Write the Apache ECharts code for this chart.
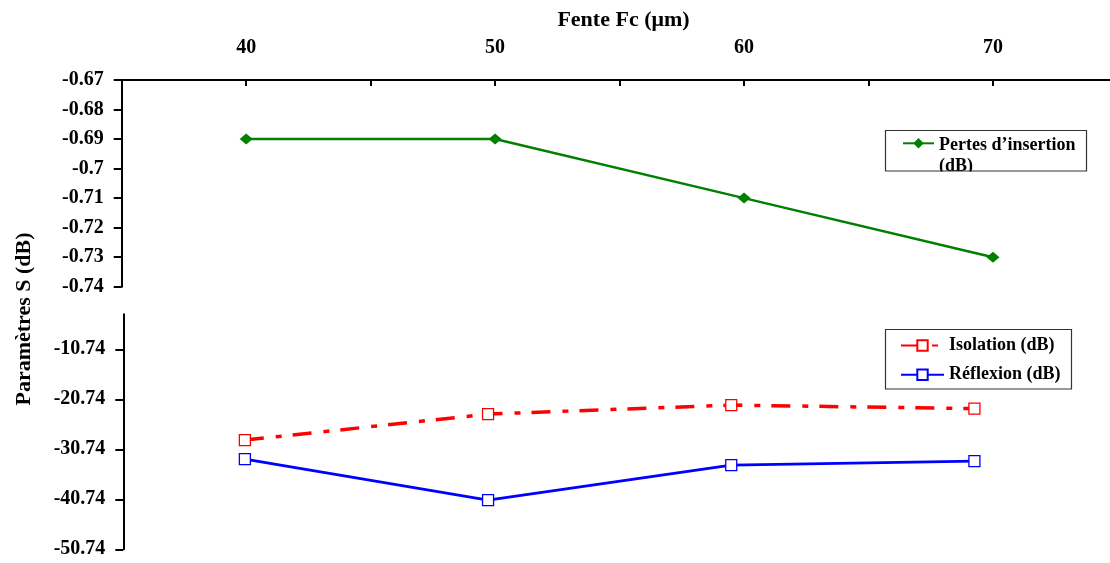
<!DOCTYPE html>
<html>
<head>
<meta charset="utf-8">
<script src="https://cdn.jsdelivr.net/npm/echarts@6/dist/echarts.min.js"></script>
<style>
html,body{margin:0;padding:0;background:#fff;}
#chart{width:1110px;height:563px;}
</style>
</head>
<body>
<div id="chart"></div>
<script>
// ---- data ----
const categories = [40, 50, 60, 70];
const pertes = [-0.69, -0.69, -0.71, -0.73];
const isolation = [-28.9, -23.7, -21.9, -22.6];
const reflexion = [-32.7, -40.9, -33.9, -33.1];
const xTickLabels = [40, 50, 60, 70];
const xTicks = [35, 40, 45, 50, 55, 60, 65, 70];
const topYTicks = [-0.74, -0.73, -0.72, -0.71, -0.7, -0.69, -0.68, -0.67];
const bottomYTicks = [-50.74, -40.74, -30.74, -20.74, -10.74];
const seriesNames = ['Pertes d\u2019insertion (dB)', 'Isolation (dB)', 'R\u00e9flexion (dB)'];
const xTitle = 'Fente Fc (\u03bcm)';
const yTitle = 'Param\u00e8tres S (dB)';

const FONT = "'Liberation Serif', 'Times New Roman', serif";
const pair = (vals) => categories.map((c, i) => [c, vals[i]]);
const labelStyle = { fontFamily: FONT, fontWeight: 'bold', fontSize: 20, color: '#000' };
const axisLineStyle = { color: '#000', width: 2 };
const legendText = { fontFamily: FONT, fontWeight: 'bold', fontSize: 18, color: '#000' };

const chart = echarts.init(document.getElementById('chart'), null, { renderer: 'canvas' });

const option = {
  animation: false,
  backgroundColor: '#fff',
  grid: [
    { left: 121.7, top: 80, right: 0, height: 206.7, containLabel: false },
    { left: 123.3, top: 314.3, right: 14, height: 235, containLabel: false }
  ],
  xAxis: [
    {
      type: 'value', gridIndex: 0, position: 'top', min: 35, max: 74.7, interval: 5,
      axisLine: { show: true, lineStyle: axisLineStyle },
      axisTick: { show: true, customValues: xTicks, inside: true, length: 6, lineStyle: axisLineStyle },
      axisLabel: { customValues: xTickLabels, margin: 22, ...labelStyle },
      splitLine: { show: false }
    },
    {
      type: 'value', gridIndex: 1, min: 35, max: 75, show: false
    }
  ],
  yAxis: [
    {
      type: 'value', gridIndex: 0, min: -0.74, max: -0.67, interval: 0.01,
      axisLine: { show: true, lineStyle: axisLineStyle },
      axisTick: { show: true, customValues: topYTicks, length: 8, lineStyle: axisLineStyle },
      axisLabel: { customValues: topYTicks, margin: 18, ...labelStyle },
      splitLine: { show: false }
    },
    {
      type: 'value', gridIndex: 1, min: -50.74, max: -3.74, interval: 10,
      axisLine: { show: true, lineStyle: axisLineStyle },
      axisTick: { show: true, customValues: bottomYTicks, length: 8, lineStyle: axisLineStyle },
      axisLabel: { customValues: bottomYTicks, margin: 18, ...labelStyle },
      splitLine: { show: false }
    }
  ],
  legend: [
    {
      data: [seriesNames[0]], orient: 'vertical', left: 902, top: 113.3, padding: 0,
      itemWidth: 31, itemHeight: 13, selectedMode: false,
      formatter: (n) => {
        const parts = n.split(' (dB)');
        return '{e| }\n{t|' + parts[0] + '}\n{t|(dB)}';
      },
      textStyle: {
        ...legendText,
        rich: {
          e: { ...legendText, lineHeight: 26 },
          t: { ...legendText, lineHeight: 21 }
        }
      }
    },
    {
      data: [seriesNames[1], seriesNames[2]], orient: 'vertical', left: 900, top: 335.5, padding: 0,
      itemWidth: 43, itemHeight: 13, itemGap: 9.3, selectedMode: false,
      textStyle: { ...legendText, lineHeight: 20 }
    }
  ],
  graphic: [
    { type: 'rect', z: 100, silent: true, shape: { x: 880, y: 171.6, width: 215, height: 14 }, style: { fill: '#fff' } },
    { type: 'rect', z: 101, silent: true, shape: { x: 885.5, y: 130.5, width: 201, height: 40.5 }, style: { fill: 'none', stroke: '#333', lineWidth: 1.2 } },
    { type: 'rect', z: 101, silent: true, shape: { x: 885.5, y: 329.5, width: 186, height: 59.5 }, style: { fill: 'none', stroke: '#333', lineWidth: 1.2 } },
    { type: 'text', z: 101, silent: true, x: 623.5, y: 20,
      style: { text: xTitle, fontFamily: FONT, fontWeight: 'bold', fontSize: 22, fill: '#000', align: 'center', verticalAlign: 'middle' } },
    { type: 'text', z: 101, silent: true, x: 24, y: 319, rotation: Math.PI / 2,
      style: { text: yTitle, fontFamily: FONT, fontWeight: 'bold', fontSize: 22, fill: '#000', align: 'center', verticalAlign: 'middle' } }
  ],
  series: [
    {
      name: seriesNames[0], type: 'line', xAxisIndex: 0, yAxisIndex: 0, data: pair(pertes),
      symbol: 'diamond', symbolSize: [13, 11], showAllSymbol: true,
      itemStyle: { color: '#008000' },
      lineStyle: { color: '#008000', width: 2.5 }
    },
    {
      name: seriesNames[1], type: 'line', xAxisIndex: 1, yAxisIndex: 1, data: pair(isolation),
      symbol: 'rect', symbolSize: 11,
      itemStyle: { color: '#fff', borderColor: '#ff0000', borderWidth: 1.3 },
      lineStyle: { color: '#ff0000', width: 3.5, type: [19, 12, 6, 11], cap: 'butt' }
    },
    {
      name: seriesNames[2], type: 'line', xAxisIndex: 1, yAxisIndex: 1, data: pair(reflexion),
      symbol: 'rect', symbolSize: 11,
      itemStyle: { color: '#fff', borderColor: '#0000ff', borderWidth: 1.3 },
      lineStyle: { color: '#0000ff', width: 2.8 }
    }
  ]
};
chart.setOption(option);
</script>
</body>
</html>
